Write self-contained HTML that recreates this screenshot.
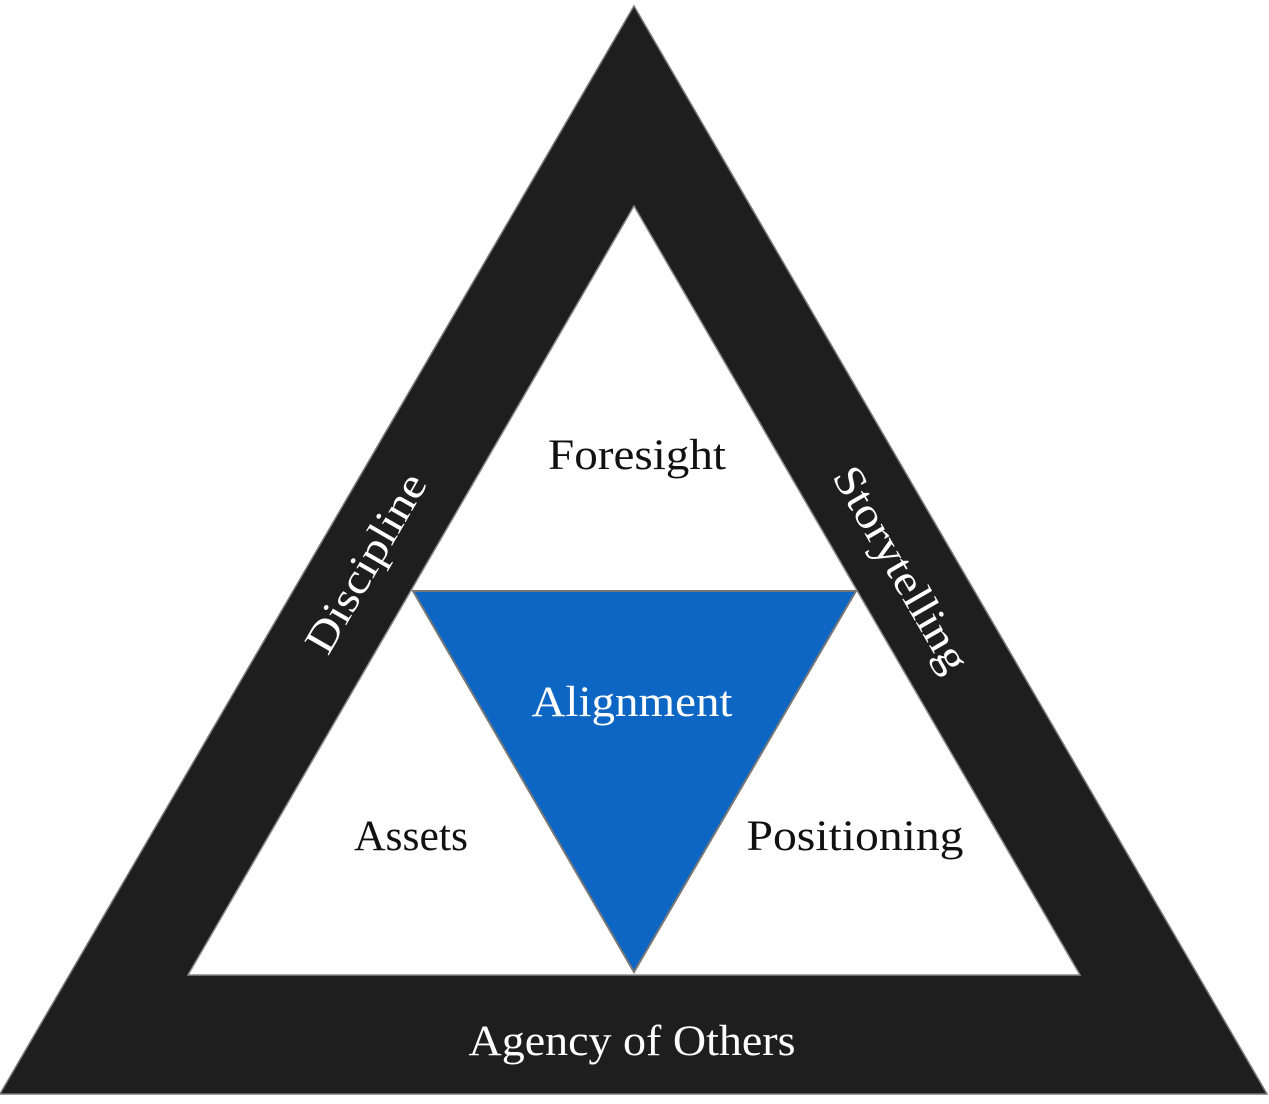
<!DOCTYPE html>
<html><head><style>html,body{margin:0;padding:0;background:#fff}svg{display:block}</style></head>
<body>
<svg width="1269" height="1104" viewBox="0 0 1269 1104" xmlns="http://www.w3.org/2000/svg" font-family="'Liberation Serif', serif">
<rect width="1269" height="1104" fill="#fff"/>
<polygon points="634,6 0,1094 1267,1094" fill="#1e1e1e" stroke="#777" stroke-width="1.5"/>
<polygon points="634,206 188,975 1080,975" fill="#fff" stroke="#888" stroke-width="1.5"/>
<polygon points="413,591 856,591 634,972" fill="#0d66c4" stroke="#777" stroke-width="2"/>
<g font-size="43" text-anchor="middle" lengthAdjust="spacingAndGlyphs">
<text x="637" y="469" fill="#111" textLength="178" lengthAdjust="spacingAndGlyphs">Foresight</text>
<text x="632" y="716" fill="#fff" textLength="201" lengthAdjust="spacingAndGlyphs">Alignment</text>
<text x="411" y="850" fill="#111" textLength="114" lengthAdjust="spacingAndGlyphs">Assets</text>
<text x="855" y="850" fill="#111" textLength="217" lengthAdjust="spacingAndGlyphs">Positioning</text>
<text x="632" y="1055" fill="#fff" textLength="327" lengthAdjust="spacingAndGlyphs">Agency of Others</text>
<text transform="translate(378,570) rotate(-60)" fill="#fff" textLength="200" lengthAdjust="spacingAndGlyphs">Discipline</text>
<text transform="translate(889,576) rotate(60)" fill="#fff" textLength="230" lengthAdjust="spacingAndGlyphs">Storytelling</text>
</g>
</svg>
</body></html>
